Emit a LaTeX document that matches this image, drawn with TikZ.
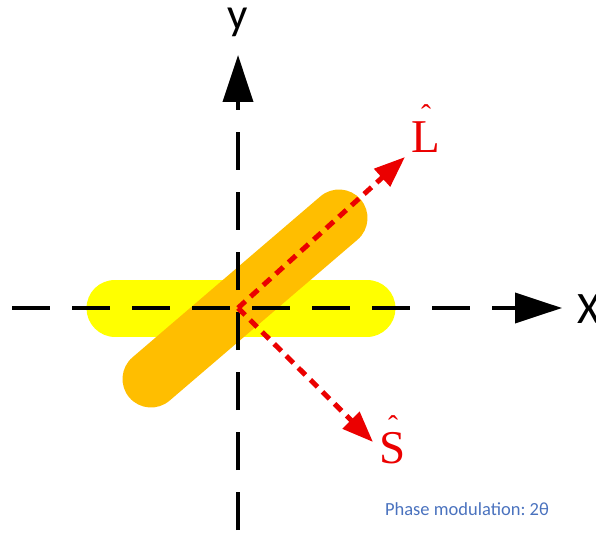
\documentclass[tikz,border=0pt]{standalone}
\usepackage{fontspec}
\setmainfont{Carlito}
\newfontfamily\serifrm{Liberation Serif}
\usetikzlibrary{arrows.meta}
\definecolor{rodyellow}{RGB}{255,255,0}
\definecolor{rodorange}{RGB}{255,190,0}
\definecolor{vecred}{RGB}{235,0,0}
\definecolor{noteblue}{RGB}{74,114,190}
\newcommand{\hatted}[1]{\ooalign{#1\cr\hidewidth\raisebox{27pt}{\fontsize{30}{30}\selectfont\char"02C6}\hidewidth\cr}}
\tikzset{
  rod/.style={line width=57pt, line cap=round},
  axisline/.style={line width=4pt, dash pattern=on 38pt off 22pt, -{Triangle[length=47pt,width=30pt]}},
  vec/.style={draw=vecred, line width=5pt, dash pattern=on 10pt off 7pt, -{Triangle[length=31pt,width=23pt]}},
  axlabel/.style={inner sep=0pt, font=\fontsize{45}{45}\selectfont},
  veclabel/.style={inner sep=0pt, text=vecred, font=\serifrm\fontsize{47}{47}\selectfont},
}
\begin{document}
\begin{tikzpicture}[x=1pt,y=-1pt]
\path[use as bounding box] (0,0) rectangle (596,534);
\clip (0,0) rectangle (596,534);
% coordinates
\coordinate (O) at (238,308);
\coordinate (xs) at (12,308);
\coordinate (xe) at (562,308);
\coordinate (ys) at (238,530);
\coordinate (ye) at (238,55);
\coordinate (ya) at (115,308);
\coordinate (yb) at (367,308);
\coordinate (oa) at (151,379);
\coordinate (ob) at (339,218);
\coordinate (Ltip) at (405,157);
\coordinate (Stip) at (373,442);
% rods
\draw[rod, rodyellow] (ya) -- (yb);
\draw[rod, rodorange] (oa) -- (ob);
% axes
\draw[axisline] (xs) -- (xe);
\draw[axisline] (ys) -- (ye);
% vectors
\draw[vec] (O) -- (Ltip);
\draw[vec] (O) -- (Stip);
% labels
\node[axlabel, anchor=base] (ylab) at (238,30) {y};
\node[axlabel, anchor=base west] (xlab) at (577,323) {X};
\node[veclabel, anchor=base] (Llab) at (426,153) {\hatted{L}};
\node[veclabel, anchor=base] (Slab) at (393,463) {\hatted{S}};
\node[anchor=base, inner sep=0pt, text=noteblue, font=\fontsize{18.5}{20}\selectfont] (note) at (467,515) {\frenchspacing Phase modulation: 2θ};
\end{tikzpicture}
\end{document}
